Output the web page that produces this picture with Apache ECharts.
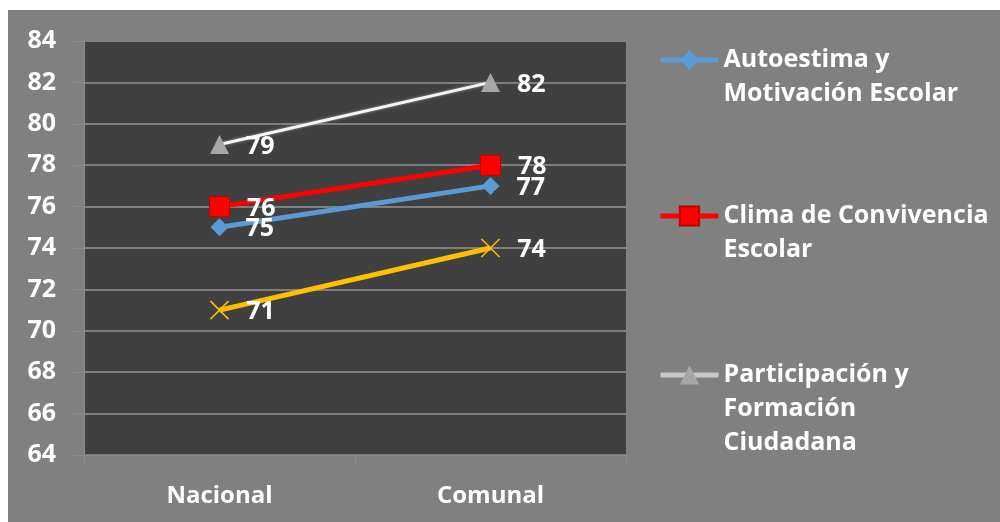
<!DOCTYPE html>
<html>
<head>
<meta charset="utf-8">
<script src="https://cdn.jsdelivr.net/npm/echarts@6/dist/echarts.min.js"></script>
<style>
html,body{margin:0;padding:0;background:#ffffff;width:1000px;height:522px;overflow:hidden;}
#chart{position:absolute;left:8px;top:10px;width:992px;height:512px;background:#808080;}
</style>
</head>
<body>
<div id="chart"></div>
<script>
const categories = ['Nacional', 'Comunal'];
const seriesNames = ['Autoestima y\nMotivación Escolar', 'Clima de Convivencia\nEscolar', 'Participación y\nFormación\nCiudadana', 'Extra'];
const autoestima = [75, 77];
const clima = [76, 78];
const participacion = [79, 82];
const cuarto = [71, 74];
const yMin = 64, yMax = 84, yStep = 2;

const FONT = '"Open Sans", "Noto Sans", sans-serif';
const FS = 25;
const LH = 34;
const labelStyle = {show: true, position: 'right', distance: 17, offset: [0, 2], color: '#ffffff', fontFamily: FONT, fontWeight: 'bold', fontSize: FS};
const chart = echarts.init(document.getElementById('chart'));

function legendFor(name, iconY, lineColor) {
  const lines = name.split('\n').length;
  return {
    data: [{name: name, lineStyle: {color: lineColor, width: 5}}],
    left: 650, top: iconY - (2 * lines - 1) * LH / 2, orient: 'vertical', padding: 0,
    itemWidth: 58, itemHeight: 24, itemGap: 0, itemTextGap: 4,
    lineStyle: {width: 5},
    formatter: function (n) { return '\n'.repeat(lines - 1) + n; },
    textStyle: {color: '#ffffff', fontFamily: FONT, fontWeight: 'bold', fontSize: FS, lineHeight: LH}
  };
}

chart.setOption({
  animation: false,
  grid: {left: 76, top: 31, width: 542, height: 414, show: true, backgroundColor: '#404040', borderWidth: 0},
  legend: [
    legendFor(seriesNames[0], 50, '#5b9bd5'),
    legendFor(seriesNames[1], 206, '#ff0000'),
    legendFor(seriesNames[2], 365, '#c8c8c8')
  ],
  xAxis: {
    type: 'category', data: categories, boundaryGap: true,
    axisLine: {show: true, lineStyle: {color: '#8c8c8c', width: 1}},
    axisTick: {show: true, length: 10, lineStyle: {color: '#8c8c8c'}},
    axisLabel: {color: '#ffffff', fontFamily: FONT, fontWeight: 'bold', fontSize: 24, margin: 29}
  },
  yAxis: {
    type: 'value', min: yMin, max: yMax, interval: yStep,
    axisLine: {show: true, lineStyle: {color: '#8c8c8c', width: 1}},
    axisTick: {show: true, length: 10, lineStyle: {color: '#8c8c8c'}},
    splitLine: {show: true, lineStyle: {color: '#7f7f7f', width: 2}},
    axisLabel: {color: '#ffffff', fontFamily: FONT, fontWeight: 'bold', fontSize: FS, margin: 28}
  },
  series: [
    {
      name: seriesNames[0], type: 'line', data: autoestima, z: 3,
      symbol: 'diamond', symbolSize: 18,
      lineStyle: {color: '#5b9bd5', width: 5},
      itemStyle: {color: '#5b9bd5'},
      label: labelStyle
    },
    {
      name: seriesNames[1], type: 'line', data: clima, z: 4,
      symbol: 'rect', symbolSize: 20,
      lineStyle: {color: '#ff0000', width: 5},
      itemStyle: {color: '#ff0000', borderColor: '#c00000', borderWidth: 1},
      label: labelStyle
    },
    {
      name: seriesNames[2], type: 'line', data: participacion, z: 2,
      symbol: 'triangle', symbolSize: 19,
      lineStyle: {color: '#f5f5f5', width: 3, shadowColor: '#9a9a9a', shadowBlur: 3},
      itemStyle: {color: '#a6a6a6'},
      label: labelStyle
    },
    {
      name: seriesNames[3], type: 'line', data: cuarto, z: 2,
      symbol: 'path://M0,0L10,10M10,0L0,10', symbolSize: 18,
      lineStyle: {color: '#ffc000', width: 5},
      itemStyle: {color: '#ffc000', borderColor: '#ffc000', borderWidth: 1.5},
      label: labelStyle
    }
  ]
});
</script>
</body>
</html>
